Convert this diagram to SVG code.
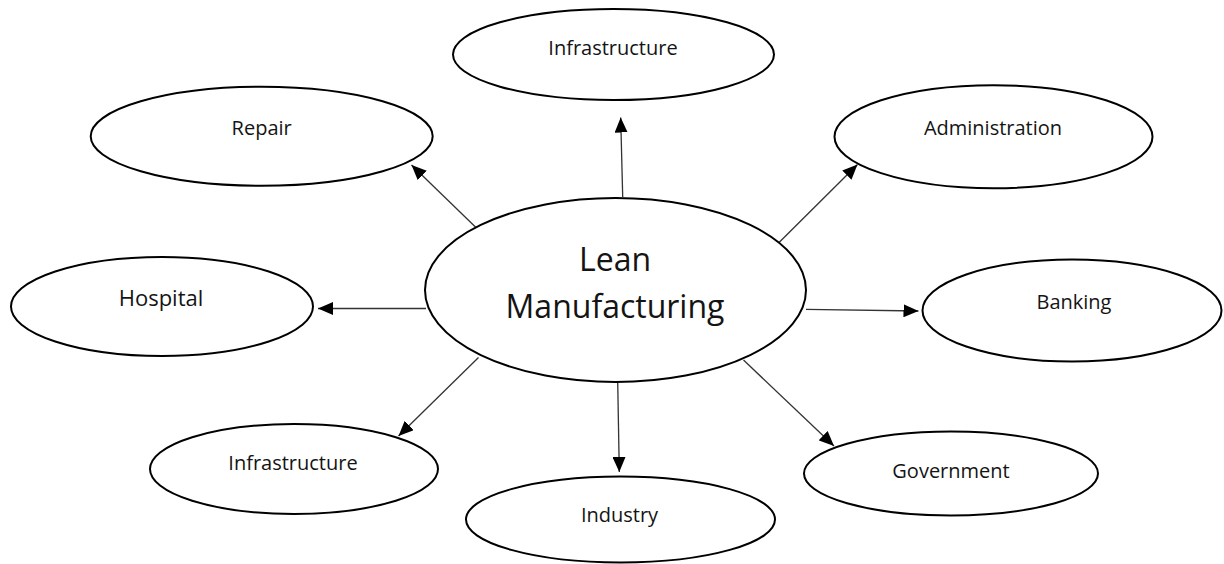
<svg xmlns="http://www.w3.org/2000/svg" width="1224" height="564" viewBox="0 0 1224 564">
  <style>
    .node ellipse { fill: #ffffff; stroke: #000000; stroke-width: 2; }
    .label { font-family: "Open Sans", "Liberation Sans", sans-serif; font-size: 20px; fill: #141414; text-anchor: middle; }
    .hub { font-size: 32px; }
    .big { font-size: 22px; }
    .edges line { stroke: #333333; stroke-width: 1.3; marker-end: url(#head); }
  </style>
  <defs>
    <marker id="head" viewBox="0 0 15 13" refX="15" refY="6.5" markerWidth="15" markerHeight="13" markerUnits="userSpaceOnUse" orient="auto">
      <path d="M0,0 L15,6.5 L0,13 Z" fill="#000000"/>
    </marker>
  </defs>
  <rect width="1224" height="564" fill="#ffffff"/>

  <!-- connectors from the hub to each satellite -->
  <g id="connectors" class="edges">
    <line x1="622.7" y1="197" x2="620.7" y2="117.5"/>
    <line x1="476.5" y1="228" x2="411.5" y2="165"/>
    <line x1="773" y1="248.5" x2="857.5" y2="164.5"/>
    <line x1="426" y1="308.5" x2="318" y2="308.5"/>
    <line x1="806" y1="309.3" x2="918.5" y2="311"/>
    <line x1="478.5" y1="357.5" x2="398.5" y2="436"/>
    <line x1="617.7" y1="381.5" x2="619.3" y2="472"/>
    <line x1="743.5" y1="360" x2="834" y2="446"/>
  </g>

  <g id="lean-manufacturing" class="node">
    <ellipse cx="615.5" cy="290" rx="190.5" ry="92"/>
    <text class="label hub" x="615" y="271">Lean</text>
    <text class="label hub" x="615" y="318">Manufacturing</text>
  </g>

  <g id="infrastructure-top" class="node">
    <ellipse cx="613.5" cy="54.5" rx="160.5" ry="45.5"/>
    <text class="label" x="613" y="55">Infrastructure</text>
  </g>

  <g id="repair" class="node">
    <ellipse cx="261.7" cy="136.3" rx="171" ry="49.5"/>
    <text class="label" x="261.7" y="134.5">Repair</text>
  </g>

  <g id="administration" class="node">
    <ellipse cx="993.5" cy="136.7" rx="159" ry="51.5"/>
    <text class="label" x="993" y="134.5">Administration</text>
  </g>

  <g id="hospital" class="node">
    <ellipse cx="162" cy="306.5" rx="151" ry="49.5"/>
    <text class="label big" x="161" y="306">Hospital</text>
  </g>

  <g id="banking" class="node">
    <ellipse cx="1072" cy="310.5" rx="149.5" ry="51"/>
    <text class="label" x="1074" y="309">Banking</text>
  </g>

  <g id="infrastructure-bottom" class="node">
    <ellipse cx="294" cy="469" rx="144" ry="45"/>
    <text class="label" x="293" y="470">Infrastructure</text>
  </g>

  <g id="industry" class="node">
    <ellipse cx="620.5" cy="519.5" rx="154.5" ry="43"/>
    <text class="label" x="619.5" y="521.5">Industry</text>
  </g>

  <g id="government" class="node">
    <ellipse cx="951" cy="473.5" rx="147" ry="42"/>
    <text class="label" x="951" y="477.5">Government</text>
  </g>
</svg>
